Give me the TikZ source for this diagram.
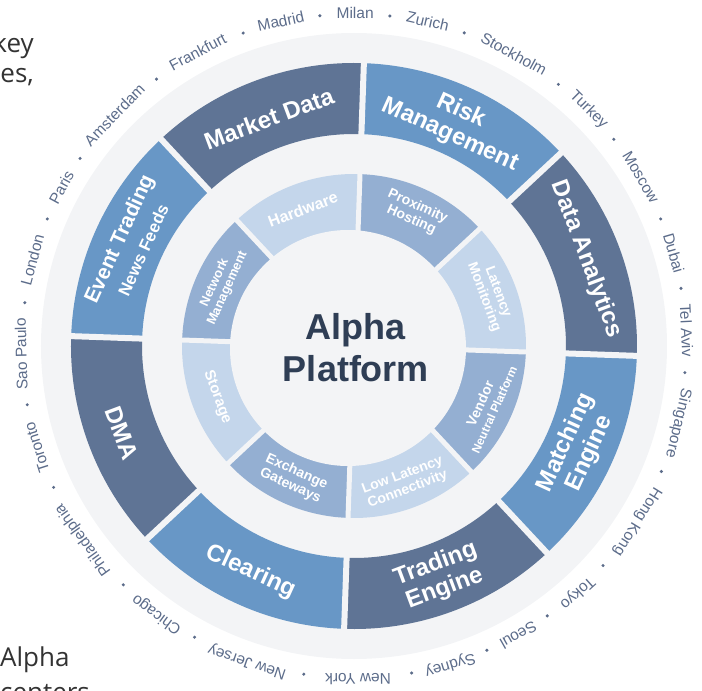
\documentclass[tikz,border=0pt]{standalone}
\usepackage{fontspec}
\setmainfont{Liberation Sans}
\newfontfamily\pagefont{Open Sans}
\usetikzlibrary{positioning}
\definecolor{discgrey}{RGB}{243,244,246}
\definecolor{bandcol}{RGB}{95,116,149}
\definecolor{bandlite}{RGB}{104,151,198}
\definecolor{corecol}{RGB}{148,175,210}
\definecolor{corelite}{RGB}{196,214,235}
\definecolor{titlecol}{RGB}{47,62,85}
\definecolor{citycol}{RGB}{92,108,138}
\definecolor{pagetext}{RGB}{51,51,51}
\tikzset{
  band label/.style={text=white,font=\bfseries\fontsize{24}{26}\selectfont,align=center,inner sep=0pt},
  core label/.style={text=white,font=\bfseries\fontsize{14}{15}\selectfont,align=center,inner sep=0pt},
  title label/.style={text=titlecol,font=\bfseries\fontsize{36}{42}\selectfont,align=center,inner sep=0pt},
  city label/.style={text=citycol,font=\fontsize{15.5}{16}\selectfont,inner sep=0pt},
  band gap/.style={draw=discgrey,line width=6pt},
  core gap/.style={draw=discgrey,line width=5pt},
  page text/.style={text=pagetext,font=\pagefont\fontsize{26}{33}\selectfont,inner sep=0pt}
}

\begin{document}
\begin{tikzpicture}[x=1pt,y=1pt]
  \useasboundingbox (-354,-345) rectangle (348,346);
  \clip (-354,-345) rectangle (348,346);

  % bits of the page text around the figure
  \node[page text,anchor=base east] (pk) at (-320,293) {key};
  \node[page text,anchor=base east] (pe) at (-320,263) {es,};
  \node[page text,anchor=base west] (pa) at (-354,-320) {Alpha};
  \node[page text,anchor=base west] (pc) at (-354,-355) {centers};

  \fill[discgrey] (0,0) circle[radius=313pt];

  % outer band
  \foreach \k/\col in {0/bandcol,1/bandlite,2/bandcol,3/bandlite,4/bandcol,5/bandlite,6/bandcol,7/bandlite}{
    \pgfmathsetmacro\sa{-2+45*\k}
    \pgfmathsetmacro\ea{43+45*\k}
    \fill[\col] (\sa:212pt) arc[start angle=\sa,end angle=\ea,radius=212pt]
      -- (\ea:283pt) arc[start angle=\ea,end angle=\sa,radius=283pt] -- cycle;
  }
  \foreach \k in {0,...,7}{\draw[band gap] ({-2+45*\k}:205pt) -- ({-2+45*\k}:290pt);}

  % inner band
  \foreach \k/\col in {0/corelite,1/corecol,2/corelite,3/corecol,4/corelite,5/corecol,6/corelite,7/corecol}{
    \pgfmathsetmacro\sa{-2+45*\k}
    \pgfmathsetmacro\ea{43+45*\k}
    \fill[\col] (0,0) -- (\sa:172pt) arc[start angle=\sa,end angle=\ea,radius=172pt] -- cycle;
  }
  \foreach \k in {0,...,7}{\draw[core gap] (0,0) -- ({-2+45*\k}:178pt);}
  \fill[discgrey] (-6,-2) circle[radius=118pt];

  \node[title label] (ap) at (2,-2) {Alpha\\Platform};

  % outer labels
  \node[band label,rotate=-69.5] (da)  at (20.5:248pt)  {Data Analytics};
  \node[band label,rotate=-24.5] (rm)  at (65.5:245pt)  {Risk\\Management};
  \node[band label,rotate=20.5]  (md)  at (110.5:243pt) {Market Data};
  \node[band label,rotate=65.5]  (et)  at (155.5:246pt)
    {{\fontsize{21}{24}\selectfont Event Trading}\\{\fontsize{17}{18}\selectfont News Feeds}};
  \node[band label,rotate=-69.5] (dma) at (200.5:248pt) {DMA};
  \node[band label,rotate=-24.5] (cl)  at (245.5:248pt) {Clearing};
  \node[band label,rotate=20.5]  (te)  at (290.5:246pt) {Trading\\Engine};
  \node[band label,rotate=65.5]  (me)  at (335.5:246pt) {Matching\\Engine};

  % inner labels
  \node[core label,rotate=-69.5] (lm) at (20.5:146pt)  {Latency\\Monitoring};
  \node[core label,rotate=-24.5] (ph) at (65.5:146pt)  {Proximity\\Hosting};
  \node[core label,rotate=20.5,font=\bfseries\fontsize{16}{16}\selectfont] (hw) at (110.5:146pt) {Hardware};
  \node[core label,rotate=65.5,font=\bfseries\fontsize{13}{14}\selectfont] (nm) at (155.5:146pt) {Network\\Management};
  \node[core label,rotate=-69.5,font=\bfseries\fontsize{15}{15}\selectfont] (st) at (200.5:146pt) {Storage};
  \node[core label,rotate=-24.5] (eg) at (245.5:146pt) {Exchange\\Gateways};
  \node[core label,rotate=20.5]  (ll) at (290.5:146pt) {Low Latency\\Connectivity};
  \node[core label,rotate=65.5]  (vn) at (335.5:146pt)
    {Vendor\\{\fontsize{12}{13}\selectfont Neutral Platform}};

  % city ring
  \foreach \cname/\ang [count=\i] in {Sao Paulo/181.4,London/165,Paris/151.5,Amsterdam/136,
      Frankfurt/118,Madrid/102.7,Milan/89.8,Zurich/77.2,Stockholm/61.3,Turkey/45.2,
      Moscow/30.5,Dubai/16.2,Tel Aviv/2.7,Singapore/-13.4,Hong Kong/-31.8,Tokyo/-47.9,
      Seoul/-60.4,Sydney/-73.2,New York/-89.3,New Jersey/-108.7,Chicago/-126.3,
      Philadelphia/215.6,Toronto/197.7}{
    \node[city label,rotate=\ang-90] (city\i) at (\ang:333pt) {\cname};
  }
  \foreach \ang in {172.5,157.5,145.6,126.5,109.5,95.9,83.8,70.6,52,38.5,22.5,10,-4.6,
      -22.2,-41.4,-54.4,-66.4,-80,-98.7,-118.7,226,205.2,190.2}{
    \fill[citycol] (\ang:332pt) circle[radius=1.7pt];
  }
\end{tikzpicture}
\end{document}
